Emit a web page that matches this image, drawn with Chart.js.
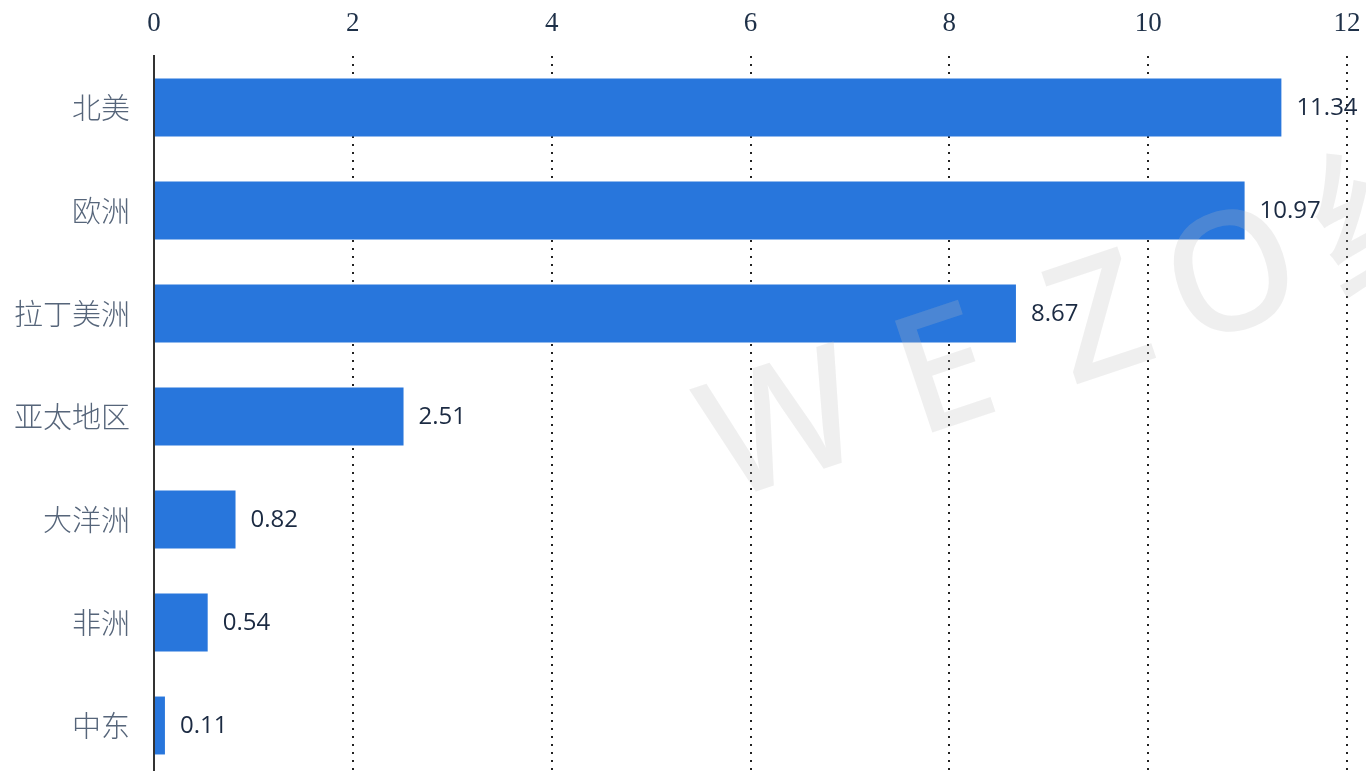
<!DOCTYPE html>
<html>
<head>
<meta charset="utf-8">
<script src="https://cdn.jsdelivr.net/npm/chart.js@4"></script>
<style>
  html, body { margin: 0; padding: 0; background: #fff; overflow: hidden; }
  #wrap { width: 1366px; height: 780px; }
</style>
</head>
<body>
<div id="wrap"><canvas id="myChart" width="1366" height="780"></canvas></div>
<script>
var regions = ['北美', '欧洲', '拉丁美洲', '亚太地区', '大洋洲', '非洲', '中东'];
var values = [11.34, 10.97, 8.67, 2.51, 0.82, 0.54, 0.11];
var xTicks = [0, 2, 4, 6, 8, 10, 12];
var watermark = ['W', 'E', 'Z', 'O', '维', '度'];

/* valeurs a droite des barres */
var valueLabels = {
    id: 'valueLabels',
    afterDatasetsDraw: function(chart) {
        var ctx = chart.ctx;
        var meta = chart.getDatasetMeta(0);
        ctx.save();
        ctx.font = '24px "Open Sans", "Noto Sans", sans-serif';
        ctx.fillStyle = '#1b2a42';
        ctx.textAlign = 'left';
        ctx.textBaseline = 'middle';
        meta.data.forEach(function(bar, i) {
            ctx.fillText(values[i].toFixed(2), bar.x + 15, bar.y + 1);
        });
        ctx.restore();
    }
};

/* filigrane, centres des lettres le long de la ligne */
var wmPos = [15, 186, 350, 490, 665, 880];
var waterMark = {
    id: 'waterMark',
    afterDraw: function(chart) {
        var ctx = chart.ctx;
        ctx.save();
        ctx.translate(766, 426);
        ctx.rotate(-18.5 * Math.PI / 180);
        ctx.font = '500 165px "Noto Sans", "Noto Sans CJK SC", sans-serif';
        ctx.fillStyle = 'rgba(187,187,187,0.24)';
        ctx.textAlign = 'center';
        ctx.textBaseline = 'alphabetic';
        watermark.forEach(function(ch, i) {
            ctx.fillText(ch, wmPos[i], 59);
        });
        ctx.restore();
    }
};

// pas de marge auto autour des echelles
function noPad(scale) {
    scale.paddingTop = 0;
    scale.paddingBottom = 0;
    scale.paddingLeft = 0;
    scale.paddingRight = 0;
}

var ctx = document.getElementById('myChart').getContext('2d');
var myChart = new Chart(ctx, {
    type: 'bar',
    data: {
        labels: regions,
        datasets: [{
            data: values,
            backgroundColor: '#2876dc',
            borderWidth: 0,
            barPercentage: 0.75,
            categoryPercentage: 0.75
        }]
    },
    options: {
        indexAxis: 'y',
        responsive: false,
        animation: false,
        layout: { padding: { left: 0, right: 19, top: 0, bottom: 3 } },
        plugins: { legend: { display: false }, tooltip: { enabled: false } },
        scales: {
            x: {
                position: 'top',
                min: 0,
                max: 12,
                afterBuildTicks: function(scale) {
                    scale.ticks = xTicks.map(function(v) { return { value: v }; });
                },
                afterFit: function(scale) { scale.height = 56; noPad(scale); },
                border: { display: false, dash: [2, 6] },
                grid: {
                    color: function(c) { return c.tick && c.tick.value === 0 ? 'rgba(0,0,0,0)' : '#222'; },
                    lineWidth: 2,
                    drawTicks: false
                },
                ticks: {
                    padding: 16,
                    color: '#1e3048',
                    font: { family: '"Liberation Serif", serif', size: 27 }
                }
            },
            y: {
                afterFit: function(scale) { scale.width = 154; noPad(scale); },
                border: { display: true, color: '#333', width: 2 },
                grid: { display: false, drawTicks: false },
                ticks: {
                    padding: 24,
                    color: '#56657a',
                    font: { family: '"Noto Sans CJK SC", sans-serif', size: 29, weight: '300' }
                }
            }
        }
    },
    plugins: [valueLabels, waterMark]
});
</script>
</body>
</html>
